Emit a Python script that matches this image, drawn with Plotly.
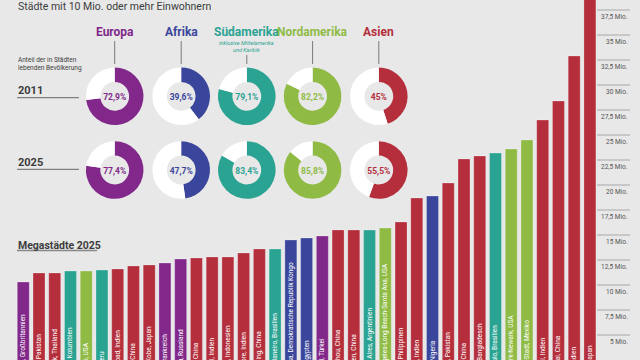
import plotly.graph_objects as go

# ---------------- data ----------------
regions = ["Europa", "Afrika", "Südamerika", "Nordamerika", "Asien"]
region_colors = {"Europa": "#81288a", "Afrika": "#3a469b", "Südamerika": "#2ba392",
                 "Nordamerika": "#8fbb45", "Asien": "#b42e3c"}
share_2011 = [72.9, 39.6, 79.1, 82.2, 45.0]
share_2025 = [77.4, 47.7, 83.4, 85.8, 55.5]

cities = ["London, Großbritannien", "Lahore, Pakistan", "Bangkok, Thailand", "Bogotá, Kolumbien",
          "Chicago, USA", "Lima, Peru", "Hyderabad, Indien", "Tianjin, China", "Osaka-Kobe, Japan",
          "Paris, Frankreich", "Moskau, Russland", "Wuhan, China", "Chennai, Indien",
          "Jakarta, Indonesien", "Bangalore, Indien", "Chongqing, China", "Rio de Janeiro, Brasilien",
          "Kinshasa, Demokratische Republik Kongo", "Kairo, Ägypten", "Istanbul, Türkei",
          "Guangzhou, China", "Shenzhen, China", "Buenos Aires, Argentinien",
          "Los Angeles-Long Beach-Santa Ana, USA", "Manila, Philippinen", "Kolkata, Indien",
          "Lagos, Nigeria", "Karachi, Pakistan", "Peking, China", "Dhaka, Bangladesch",
          "São Paulo, Brasilien", "New York-Newark, USA", "Mexiko-Stadt, Mexiko", "Mumbai, Indien",
          "Shanghai, China", "Delhi, Indien", "Tokio, Japan"]
population_2025 = [10.3, 11.2, 11.2, 11.4, 11.4, 11.5, 11.6, 11.9, 12.0, 12.2, 12.6, 12.7, 12.8,
                   12.8, 13.2, 13.6, 13.6, 14.5, 14.7, 14.9, 15.5, 15.5, 15.5, 15.7, 16.3, 18.7,
                   18.9, 20.2, 22.6, 22.9, 23.2, 23.6, 24.5, 26.5, 28.4, 32.9, 38.7]
city_region = ["Europa", "Asien", "Asien", "Südamerika", "Nordamerika", "Südamerika", "Asien",
               "Asien", "Asien", "Europa", "Europa", "Asien", "Asien", "Asien", "Asien", "Asien",
               "Südamerika", "Afrika", "Afrika", "Europa", "Asien", "Asien", "Südamerika",
               "Nordamerika", "Asien", "Asien", "Afrika", "Asien", "Asien", "Asien", "Südamerika",
               "Nordamerika", "Nordamerika", "Asien", "Asien", "Asien", "Asien"]
tick_values = [5, 7.5, 10, 12.5, 15, 17.5, 20, 22.5, 25, 27.5, 30, 32.5, 35, 37.5]
tick_labels = ["5 Mio.", "7,5 Mio.", "10 Mio.", "12,5 Mio.", "15 Mio.", "17,5 Mio.", "20 Mio.",
               "22,5 Mio.", "25 Mio.", "27,5 Mio.", "30 Mio.", "32,5 Mio.", "35 Mio.", "37,5 Mio."]

# ---------------- layout constants ----------------
W, H = 640, 360
FONT = "Roboto, Liberation Sans, sans-serif"
BG = "#e8e8e8"
DARK = "#3c3c3c"

def px(x):
    return x / W

def py(y):
    return 1 - y / H

def fmt_pct(v):
    s = f"{v:.1f}".replace(".", ",")
    if s.endswith(",0"):
        s = s[:-2]
    return s + "%"

fig = go.Figure()

# bars
fig.add_trace(go.Bar(
    x=cities, y=population_2025,
    marker=dict(color=[region_colors[r] for r in city_region],
                line=dict(color="rgba(255,255,255,0.25)", width=1)),
    text=cities, textposition="inside", insidetextanchor="start", textangle=-90,
    textfont=dict(family=FONT, size=6.5, color="white"),
    cliponaxis=True, hoverinfo="x+y", showlegend=False,
))

# donuts
centers_x = [114.7, 181.2, 246.8, 312.6, 378.8]
row_y = {"2011": 96.3, "2025": 170.0}
R = 28.8
for yr, shares in (("2011", share_2011), ("2025", share_2025)):
    cy = row_y[yr]
    for reg, cx, v in zip(regions, centers_x, shares):
        col = region_colors[reg]
        fig.add_trace(go.Pie(
            values=[v, 100 - v], sort=False, direction="clockwise", rotation=0,
            hole=0.5, marker=dict(colors=[col, "white"], line=dict(width=0)),
            textinfo="none", hoverinfo="skip", showlegend=False,
            domain=dict(x=[px(cx - R), px(cx + R)], y=[py(cy + R), py(cy - R)]),
            title=dict(text=f"<b>{fmt_pct(v)}</b>", position="middle center",
                       font=dict(family=FONT, size=8.5, color=col)),
        ))

shapes = []
annotations = []

# region titles and connector lines
for reg, cx in zip(regions, centers_x):
    col = region_colors[reg]
    annotations.append(dict(x=px(cx), y=py(31.5), xref="paper", yref="paper", text=f"<b>{reg}</b>",
                            showarrow=False, xanchor="center", yanchor="middle",
                            font=dict(family=FONT, size=12, color=col)))
    y_top = 55 if reg == "Südamerika" else 41
    shapes.append(dict(type="line", xref="paper", yref="paper", x0=px(cx), x1=px(cx),
                       y0=py(y_top), y1=py(64), line=dict(color="#7a7a7a", width=1)))
annotations.append(dict(x=px(centers_x[2]), y=py(47), xref="paper", yref="paper",
                        text="<i>inklusive Mittelamerika<br>und Karibik</i>", showarrow=False,
                        xanchor="center", yanchor="middle",
                        font=dict(family=FONT, size=5.5, color=region_colors["Südamerika"])))

# left side texts
annotations += [
    dict(x=px(16), y=py(6), xref="paper", yref="paper", text="Städte mit 10 Mio. oder mehr Einwohnern",
         showarrow=False, xanchor="left", yanchor="middle", font=dict(family=FONT, size=10.5, color=DARK)),
    dict(x=px(16), y=py(64), xref="paper", yref="paper", text="Anteil der in Städten<br>lebenden Bevölkerung",
         showarrow=False, xanchor="left", yanchor="middle", align="left",
         font=dict(family=FONT, size=6.5, color=DARK)),
    dict(x=px(16), y=py(90.5), xref="paper", yref="paper", text="<b>2011</b>",
         showarrow=False, xanchor="left", yanchor="middle", font=dict(family=FONT, size=11, color=DARK)),
    dict(x=px(16), y=py(163), xref="paper", yref="paper", text="<b>2025</b>",
         showarrow=False, xanchor="left", yanchor="middle", font=dict(family=FONT, size=11, color=DARK)),
    dict(x=px(16), y=py(245), xref="paper", yref="paper", text="<b>Megastädte 2025</b>",
         showarrow=False, xanchor="left", yanchor="middle", font=dict(family=FONT, size=10.5, color=DARK)),
]
for ly in (97.7, 169.3):
    shapes.append(dict(type="line", xref="paper", yref="paper", x0=px(17), x1=px(79),
                       y0=py(ly), y1=py(ly), line=dict(color="#666666", width=1)))
shapes.append(dict(type="line", xref="paper", yref="paper", x0=px(17), x1=px(97),
                   y0=py(250.5), y1=py(250.5), line=dict(color="#888888", width=1.5)))

# right-side gridlines and tick labels
for tv, tl in zip(tick_values, tick_labels):
    shapes.append(dict(type="line", xref="paper", yref="y", x0=px(597), x1=px(630),
                       y0=tv, y1=tv, line=dict(color="#a8a8a8", width=1), layer="below"))
    annotations.append(dict(x=px(630), y=tv, xref="paper", yref="y", text=tl, showarrow=False,
                            xanchor="right", yanchor="top", yshift=-1,
                            font=dict(family=FONT, size=6.5, color="#555555")))

fig.update_layout(
    width=W, height=H, margin=dict(l=0, r=0, t=0, b=0),
    paper_bgcolor=BG, plot_bgcolor="rgba(0,0,0,0)",
    bargap=0.24, showlegend=False,
    xaxis=dict(domain=[px(15.4), px(597.8)], range=[-0.5, len(cities) - 0.5],
               showticklabels=False, showgrid=False, zeroline=False, fixedrange=True),
    yaxis=dict(range=[2.5, 38.5], showticklabels=False, showgrid=False, zeroline=False,
               fixedrange=True),
    shapes=shapes, annotations=annotations,
    uniformtext=dict(minsize=5, mode="show"),
)

fig.write_html("out.html", config={"displayModeBar": False},
               post_script="document.body.style.margin='0';document.body.style.overflow='hidden';")
